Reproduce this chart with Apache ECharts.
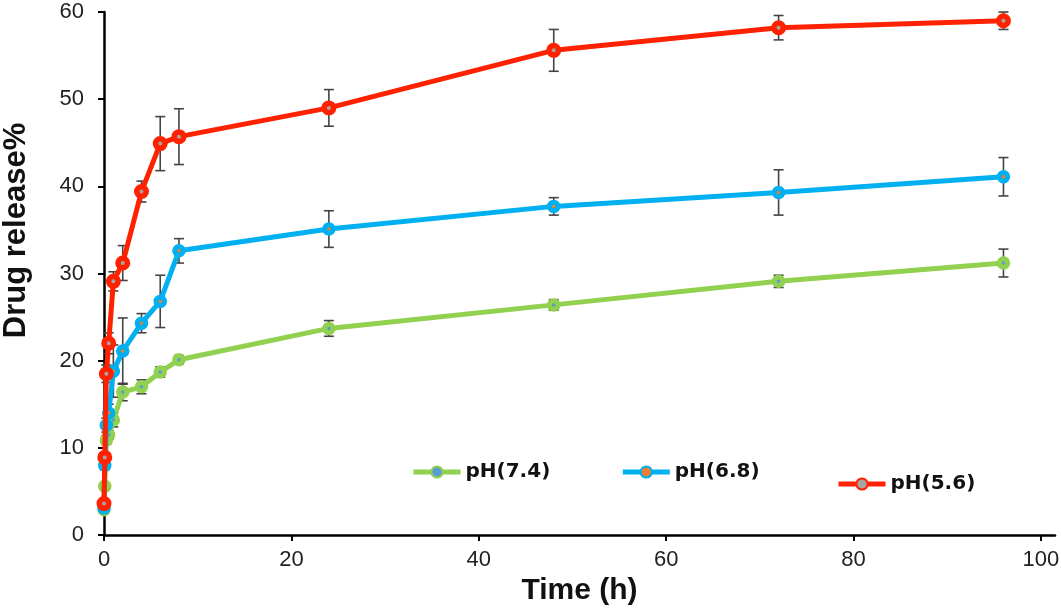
<!DOCTYPE html>
<html>
<head>
<meta charset="utf-8">
<script src="https://cdn.jsdelivr.net/npm/echarts@6/dist/echarts.min.js"></script>
<style>html,body{margin:0;padding:0;background:#fff;}#c{width:1061px;height:608px;}</style>
</head>
<body>
<div id="c"></div>
<script>
const times = [0, 0.083, 0.25, 0.5, 1, 2, 4, 6, 8, 24, 48, 72, 96];
const xTicks = [0, 20, 40, 60, 80, 100];
const seriesNames = ['pH(7.4)', 'pH(6.8)', 'pH(5.6)'];
const green = [2.9, 5.6, 10.9, 11.5, 13.2, 16.4, 17.0, 18.7, 20.1, 23.7, 26.4, 29.1, 31.2];
const greenErr = [0.3, 0.4, 0.5, 0.5, 0.8, 1.0, 0.8, 0.6, 0.5, 0.9, 0.6, 0.7, 1.6];
const blue = [3.1, 8.0, 12.6, 14.0, 18.8, 21.1, 24.3, 26.8, 32.6, 35.1, 37.7, 39.3, 41.1];
const blueErr = [0.3, 0.5, 0.8, 1.0, 3.0, 3.8, 1.1, 3.0, 1.4, 2.1, 1.0, 2.6, 2.2];
const red = [3.6, 8.9, 18.5, 22.0, 29.1, 31.2, 39.4, 44.9, 45.7, 49.0, 55.6, 58.2, 59.0];
const redErr = [0.3, 0.5, 1.0, 1.2, 1.1, 2.0, 1.2, 3.1, 3.2, 2.1, 2.4, 1.4, 1.0];

const colors = ['#92D050', '#00B0F0', '#FF2200'];
const dotColors = ['#5B9BD5', '#ED7D31', '#A5A5A5'];
const values = [green, blue, red];
const errs = [greenErr, blueErr, redErr];

function pairs(v) { return times.map((t, i) => [t, v[i]]); }
function errData(v, e) { return times.map((t, i) => [t, v[i], e[i]]); }

function renderErr(params, api) {
  const x = api.value(0), y = api.value(1), e = api.value(2);
  const top = api.coord([x, y + e]);
  const bot = api.coord([x, y - e]);
  const hw = 5;
  const st = { stroke: '#444', lineWidth: 1.6 };
  return {
    type: 'group',
    children: [
      { type: 'line', shape: { x1: top[0], y1: top[1], x2: bot[0], y2: bot[1] }, style: st },
      { type: 'line', shape: { x1: top[0] - hw, y1: top[1], x2: top[0] + hw, y2: top[1] }, style: st },
      { type: 'line', shape: { x1: bot[0] - hw, y1: bot[1], x2: bot[0] + hw, y2: bot[1] }, style: st }
    ]
  };
}

const series = [];
for (let k = 0; k < 3; k++) {
  series.push({
    type: 'custom',
    name: seriesNames[k] + ' err',
    renderItem: renderErr,
    data: errData(values[k], errs[k]),
    z: 1,
    silent: true
  });
}
for (let k = 0; k < 3; k++) {
  series.push({
    type: 'line',
    name: seriesNames[k],
    data: pairs(values[k]),
    symbol: 'circle',
    symbolSize: k === 2 ? 9.5 : 8.5,
    showSymbol: true,
    lineStyle: { color: colors[k], width: 5 },
    itemStyle: { color: dotColors[k], borderColor: colors[k], borderWidth: k === 2 ? 5.5 : 5 },
    z: 3 + k,
    animation: false
  });
}

const legendText = { fontFamily: 'DejaVu Sans', fontWeight: 'bold', fontSize: 20, color: '#111' };
const chart = echarts.init(document.getElementById('c'), null, { renderer: 'canvas' });
chart.setOption({
  animation: false,
  backgroundColor: '#fff',
  grid: { left: 104, right: 6, top: 12, bottom: 73, containLabel: false, outerBoundsMode: 'none' },
  legend: [
    {
      data: [seriesNames[0], seriesNames[1]],
      left: 406, top: 457,
      itemWidth: 47, itemHeight: 14, itemGap: 70,
      lineStyle: { width: 5 },
      textStyle: legendText,
      selectedMode: false
    },
    {
      data: [seriesNames[2]],
      left: 831, top: 469,
      itemWidth: 47, itemHeight: 14,
      lineStyle: { width: 5 },
      textStyle: legendText,
      selectedMode: false
    }
  ],
  xAxis: {
    type: 'value',
    min: 0, max: 101.5,
    name: 'Time (h)',
    nameLocation: 'middle',
    nameGap: 38,
    nameTextStyle: { fontFamily: 'Liberation Sans', fontWeight: 'bold', fontSize: 30, color: '#111' },
    axisLine: { show: true, onZero: false, lineStyle: { color: '#000', width: 2.5 } },
    axisTick: { show: true, inside: false, length: 6, customValues: xTicks, lineStyle: { color: '#000', width: 2 } },
    axisLabel: { customValues: xTicks, margin: 14, fontFamily: 'Liberation Sans', fontSize: 22, color: '#222' },
    splitLine: { show: false }
  },
  yAxis: {
    type: 'value',
    min: 0, max: 60, interval: 10,
    name: 'Drug release%',
    nameLocation: 'middle',
    nameGap: 72,
    nameRotate: 90,
    nameTextStyle: { fontFamily: 'Liberation Sans', fontWeight: 'bold', fontSize: 31, color: '#111', padding: [0, 0, 0, 86] },
    axisLine: { show: true, onZero: false, lineStyle: { color: '#000', width: 2.5 } },
    axisTick: { show: true, inside: false, length: 6, lineStyle: { color: '#000', width: 2 } },
    axisLabel: { margin: 20, fontFamily: 'Liberation Sans', fontSize: 22, color: '#222' },
    splitLine: { show: false }
  },
  series: series
});
</script>
</body>
</html>
